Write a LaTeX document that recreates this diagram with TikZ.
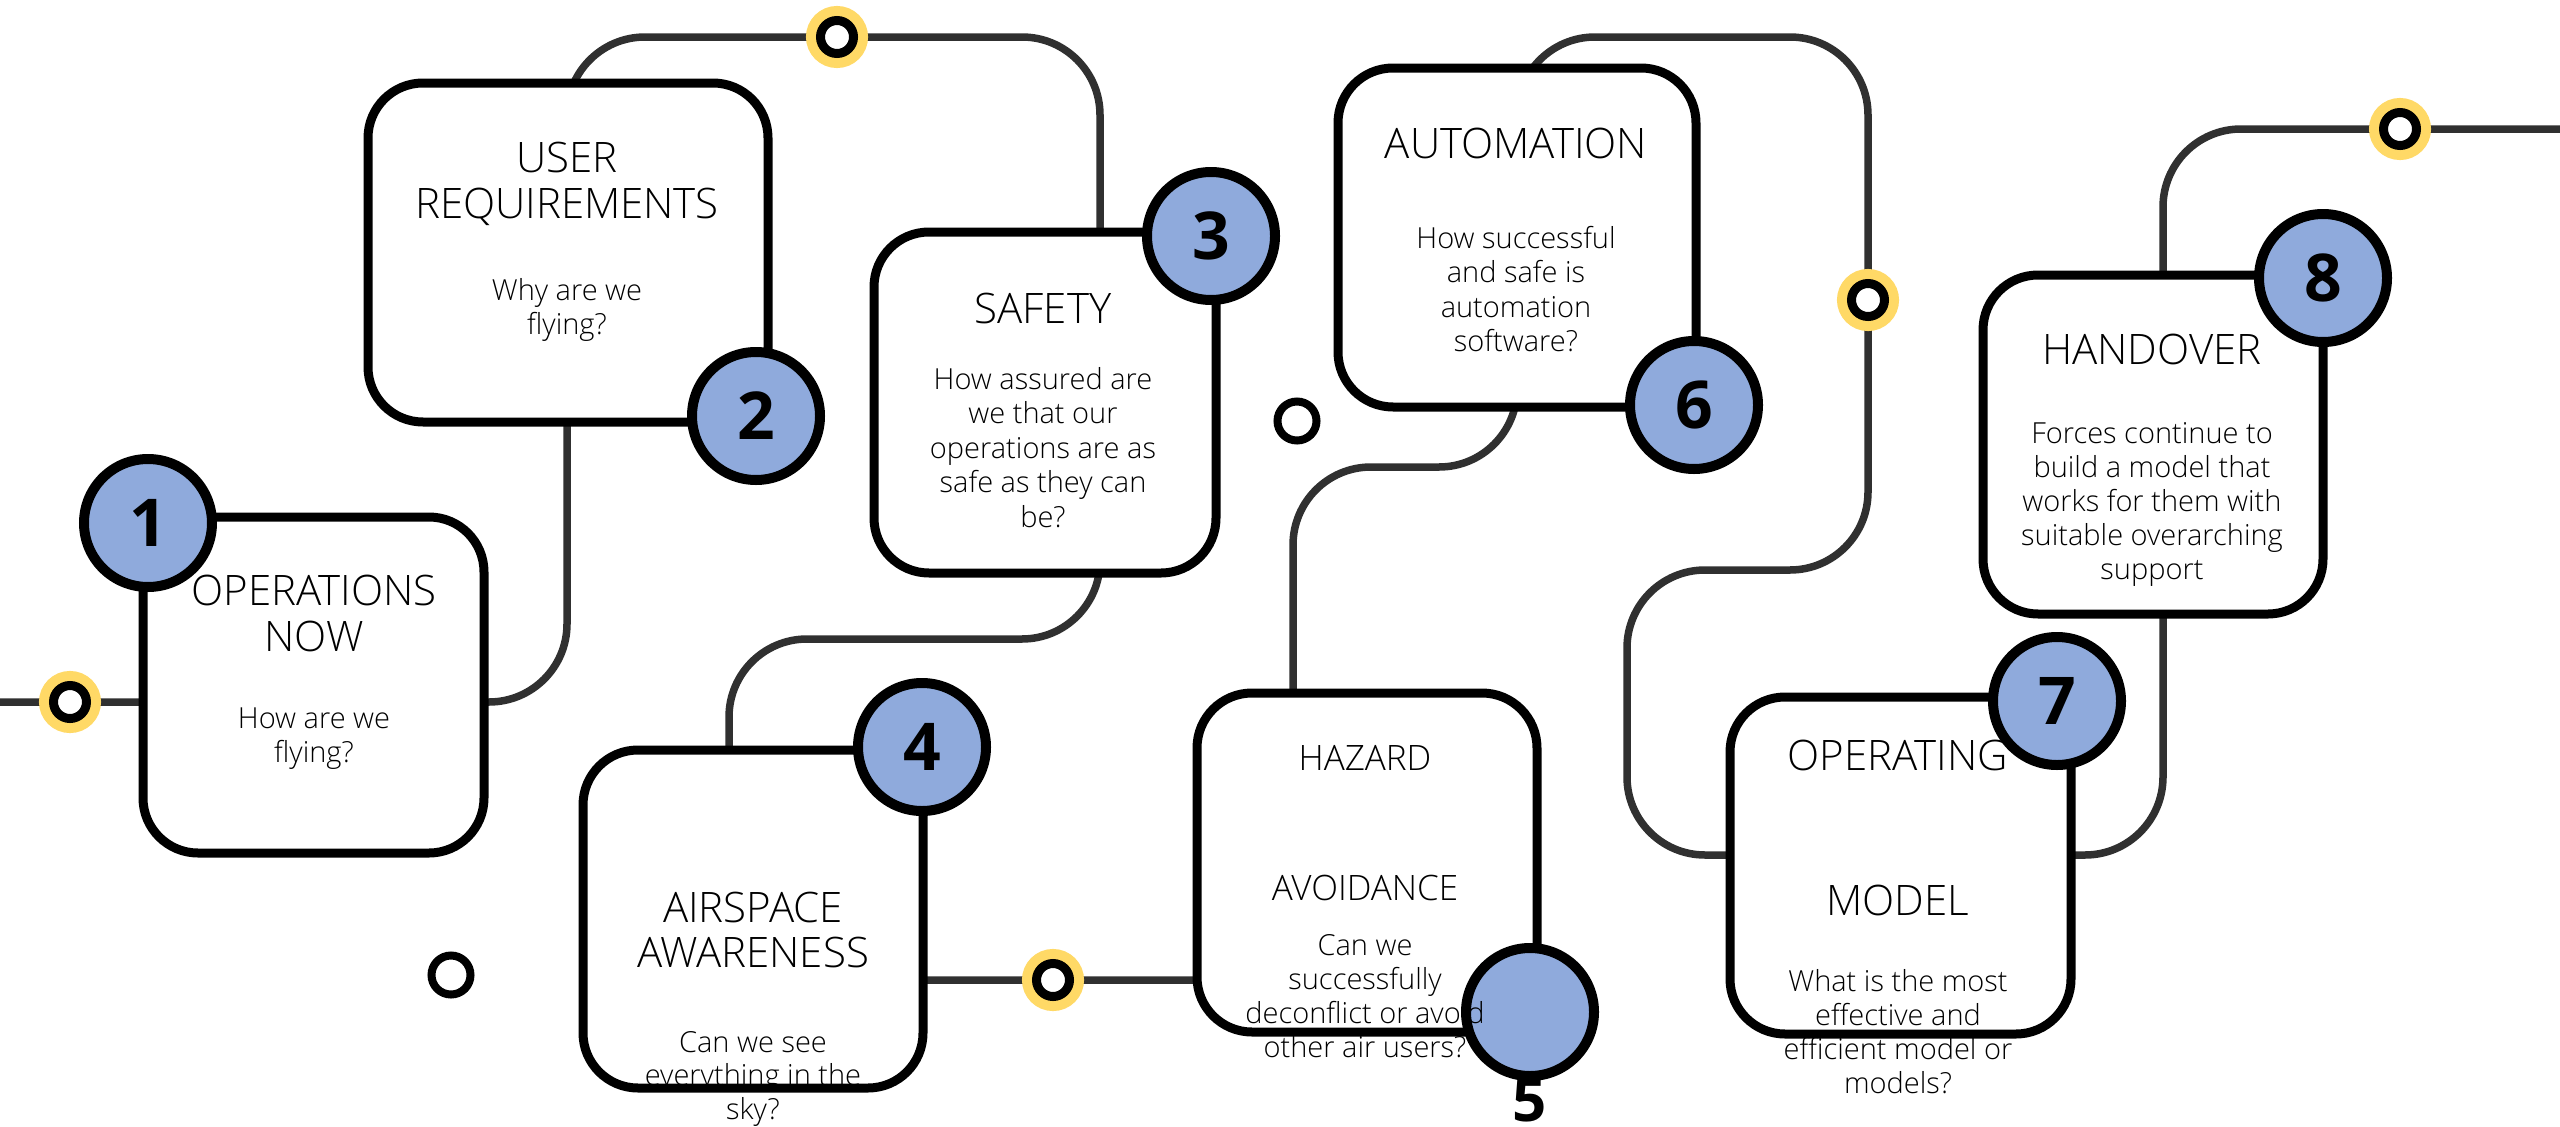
\documentclass[tikz,border=0pt]{standalone}
\usepackage{fontspec}
\IfFontExistsTF{Open Sans Light}{\setmainfont{Open Sans Light}}{\setmainfont{Open Sans}}
\newfontfamily\numfont{Open Sans}
\definecolor{nblue}{HTML}{8FAADC}
\definecolor{syellow}{HTML}{FFD966}
\definecolor{routegray}{HTML}{303030}
\tikzset{
  routeline/.style={draw=routegray, line width=7.5pt, rounded corners=78pt},
  card/.style={rectangle, draw=black, fill=white, line width=9pt, rounded corners=55pt, inner sep=0pt},
  numc/.style={circle, draw=black, fill=nblue, line width=10pt, minimum size=128pt, inner sep=0pt,
               font=\numfont\bfseries\fontsize{66}{70}\selectfont},
  station/.style={circle, inner sep=0pt, minimum size=33pt, fill=white, draw=black, line width=9pt,
                  preaction={draw=syellow, line width=29pt}},
  ringmark/.style={circle, inner sep=0pt, minimum size=39pt, draw=black, line width=8pt},
  ttl/.style={anchor=base, inner sep=0pt, font=\fontsize{42}{46}\selectfont},
  ttls/.style={anchor=base, inner sep=0pt, font=\fontsize{35}{40}\selectfont},
  qst/.style={anchor=base, inner sep=0pt, font=\fontsize{29}{34}\selectfont},
  numtxt/.style={inner sep=0pt, font=\numfont\bfseries\fontsize{60}{64}\selectfont},
}
\begin{document}
\begin{tikzpicture}[x=1pt,y=-1pt]
\path[use as bounding box, fill=white] (0,0) rectangle (2560,1127);

% route
\coordinate (start) at (0,702);
\coordinate (end) at (2560,129);
\draw[routeline] (start) -- (567,702) -- (567,37) -- (1100,37) -- (1100,639) -- (729,639)
  -- (729,980) -- (1293,980) -- (1293,467) -- (1517,467) -- (1517,37) -- (1868,37)
  -- (1868,570) -- (1627,570) -- (1627,855) -- (2163,855) -- (2163,129) -- (end);

% cards
\node[card, minimum width=341pt, minimum height=336pt] (B1) at (313.5,685) {};
\node[card, minimum width=400pt, minimum height=339pt] (B2) at (568,252.5) {};
\node[card, minimum width=342pt, minimum height=341pt] (B3) at (1045,402.5) {};
\node[card, minimum width=340pt, minimum height=338pt] (B4) at (753,919) {};
\node[card, minimum width=340pt, minimum height=339pt] (B5) at (1367,862.5) {};
\node[card, minimum width=358pt, minimum height=339pt] (B6) at (1517,237.5) {};
\node[card, minimum width=341pt, minimum height=337pt] (B7) at (1900.5,865.5) {};
\node[card, minimum width=340pt, minimum height=339pt] (B8) at (2153,444.5) {};

% number circles
\node[numc] (c1) at (148,523) {1};
\node[numc] (c2) at (756,416) {2};
\node[numc] (c3) at (1211,236) {3};
\node[numc] (c4) at (922,747) {4};
\node[numc] (c5) at (1530,1012) {};
\node[numc] (c6) at (1694,405) {6};
\node[numc] (c7) at (2057,701) {7};
\node[numc] (c8) at (2323,278) {8};
\node[numtxt] (n5) at (1530,1100) {5};

% texts
\node[ttl] (t1a) at (314,605) {OPERATIONS};
\node[ttl] (t1b) at (314,651) {NOW};
\node[qst] (q1a) at (314,728) {How are we};
\node[qst] (q1b) at (314,762) {flying?};

\node[ttl] (t2a) at (567,172) {USER};
\node[ttl] (t2b) at (567,218) {REQUIREMENTS};
\node[qst] (q2a) at (567,300) {Why are we};
\node[qst] (q2b) at (567,334) {flying?};

\node[ttl] (t3a) at (1043,323) {SAFETY};
\node[qst] (q3a) at (1043,389) {How assured are};
\node[qst] (q3b) at (1043,423.5) {we that our};
\node[qst] (q3c) at (1043,458) {operations are as};
\node[qst] (q3d) at (1043,492.5) {safe as they can};
\node[qst] (q3e) at (1043,527) {be?};

\node[ttl] (t4a) at (753,922) {AIRSPACE};
\node[ttl] (t4b) at (753,967) {AWARENESS};
\node[qst] (q4a) at (753,1052) {Can we see};
\node[qst] (q4b) at (753,1085.5) {everything in the};
\node[qst] (q4c) at (753,1119) {sky?};

\node[ttls] (t5a) at (1365,770) {HAZARD};
\node[ttls] (t5b) at (1365,900) {AVOIDANCE};
\node[qst] (q5a) at (1365,955) {Can we};
\node[qst] (q5b) at (1365,989) {successfully};
\node[qst] (q5c) at (1365,1023) {deconflict or avoid};
\node[qst] (q5d) at (1365,1057) {other air users?};

\node[ttl] (t6a) at (1516,158) {AUTOMATION};
\node[qst] (q6a) at (1516,248) {How successful};
\node[qst] (q6b) at (1516,282.5) {and safe is};
\node[qst] (q6c) at (1516,317) {automation};
\node[qst] (q6d) at (1516,351.5) {software?};

\node[ttl] (t7a) at (1898,770) {OPERATING};
\node[ttl] (t7b) at (1898,915) {MODEL};
\node[qst] (q7a) at (1898,991) {What is the most};
\node[qst] (q7b) at (1898,1025) {effective and};
\node[qst] (q7c) at (1898,1059) {efficient model or};
\node[qst] (q7d) at (1898,1093) {models?};

\node[ttl] (t8a) at (2152,364) {HANDOVER};
\node[qst] (q8a) at (2152,443) {Forces continue to};
\node[qst] (q8b) at (2152,477) {build a model that};
\node[qst] (q8c) at (2152,511) {works for them with};
\node[qst] (q8d) at (2152,545) {suitable overarching};
\node[qst] (q8e) at (2152,579) {support};

% stations
\node[station] (s1) at (70,702) {};
\node[station] (s2) at (837,37) {};
\node[station] (s3) at (1053,980) {};
\node[station] (s4) at (1868,300) {};
\node[station] (s5) at (2400,129) {};

% open rings
\node[ringmark] (r1) at (451,975) {};
\node[ringmark] (r2) at (1297,421) {};
\end{tikzpicture}
\end{document}
